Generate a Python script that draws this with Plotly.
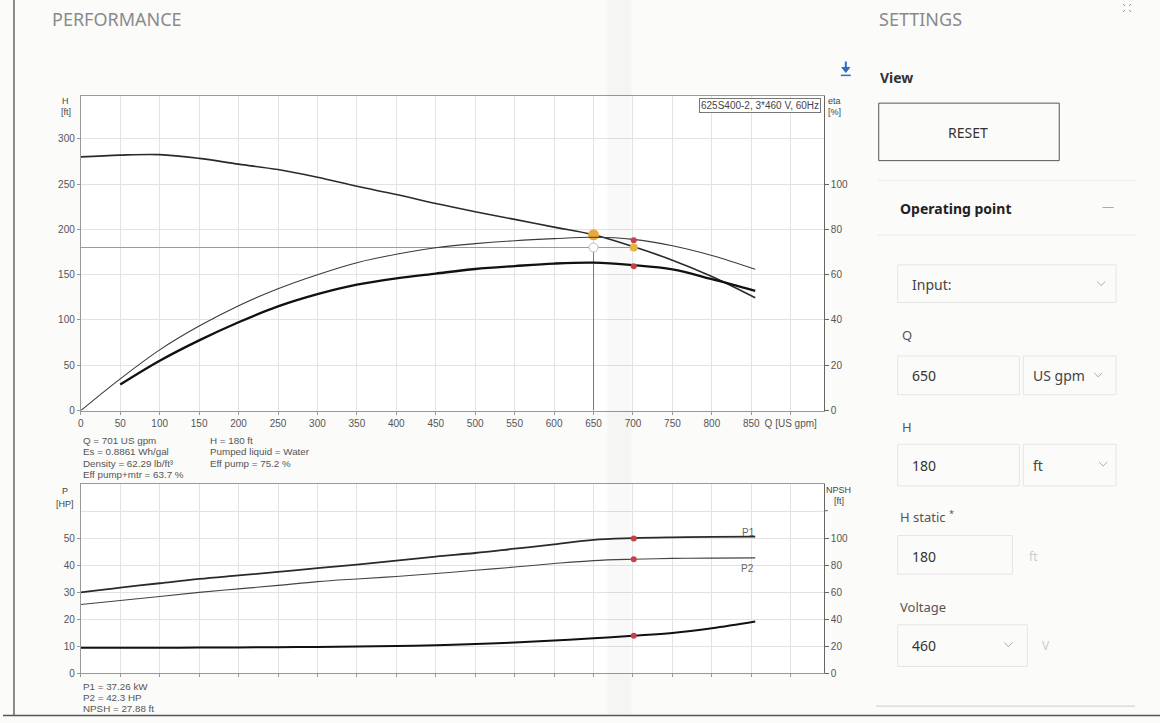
import plotly.graph_objects as go

W, H = 1160, 723

# flow points (US gpm)
q_pts = [0, 50, 100, 150, 200, 250, 300, 350, 400, 450, 500, 550, 600, 650, 700, 750, 800, 855]
head_ft = [280, 282, 282.5, 278.4, 272, 266, 257.5, 247.5, 238.5, 228.5, 219.5, 211, 202.5, 194, 181, 166, 148, 124.5]
eta_pump = [0, 14, 26.8, 37.3, 46.3, 53.8, 60, 65.3, 69, 71.9, 73.7, 75, 75.9, 76.5, 75.6, 72.8, 68.5, 62.4]
q_tot = q_pts[1:]
eta_total = [11.5, 22, 31, 39, 46, 51.4, 55.6, 58.4, 60.5, 62.5, 63.8, 64.9, 65.3, 64.2, 62.3, 58, 52.8]

p1_hp = [30, 31.8, 33.4, 35, 36.3, 37.6, 39, 40.3, 41.8, 43.3, 44.6, 46.2, 47.8, 49.5, 50.1, 50.4, 50.6, 50.7]
p2_hp = [25.5, 27, 28.5, 30, 31.3, 32.6, 34, 35, 35.9, 37, 38.2, 39.4, 40.7, 41.8, 42.3, 42.6, 42.7, 42.8]
npsh_ft = [19, 19, 19, 19.1, 19.2, 19.4, 19.6, 19.9, 20.3, 20.9, 21.7, 22.8, 24.3, 26, 27.9, 30, 33.5, 38.5]

# operating point
q_duty, h_static = 650, 180
h_duty = 194
q_op, h_op = 701, 180
eta_pump_op, eta_total_op = 75.2, 63.7
p1_op, p2_op, npsh_op = 50.0, 42.3, 27.88

x_ticks = list(range(0, 901, 50))
x_text = [str(v) for v in range(0, 851, 50)] + ["Q [US gpm]"]

CHART_FONT = "Liberation Sans, Arial, sans-serif"
UI_FONT = "Noto Sans, Open Sans, sans-serif"
INK = "#2a2a2a"
GRID = "#e3e3e3"


def px(x):
    return x / W


def py(y):
    return 1 - y / H


fig = go.Figure()

# upper chart: head and efficiency
fig.add_trace(go.Scatter(x=[0, q_op], y=[h_static, h_static], mode="lines",
                         line=dict(color="#9a9a9a", width=1), xaxis="x", yaxis="y"))
fig.add_trace(go.Scatter(x=[q_duty, q_duty], y=[0, h_static], mode="lines",
                         line=dict(color="#777", width=1), xaxis="x", yaxis="y"))
fig.add_trace(go.Scatter(x=q_pts, y=head_ft, mode="lines", line=dict(color=INK, width=1.6, shape="spline"),
                         xaxis="x", yaxis="y"))
fig.add_trace(go.Scatter(x=q_pts, y=eta_pump, mode="lines", line=dict(color="#3a3a3a", width=1.1, shape="spline"),
                         xaxis="x", yaxis="y2"))
fig.add_trace(go.Scatter(x=q_tot, y=eta_total, mode="lines", line=dict(color="#111", width=2.3, shape="spline"),
                         xaxis="x", yaxis="y2"))
fig.add_trace(go.Scatter(x=[q_duty], y=[h_static], mode="markers",
                         marker=dict(size=9, color="white", line=dict(color="#bbb", width=1)), xaxis="x", yaxis="y"))
fig.add_trace(go.Scatter(x=[q_duty], y=[h_duty], mode="markers",
                         marker=dict(size=11, color="#e8a93a"), xaxis="x", yaxis="y"))
fig.add_trace(go.Scatter(x=[q_op], y=[h_op], mode="markers",
                         marker=dict(size=8, color="#e3b540"), xaxis="x", yaxis="y"))
fig.add_trace(go.Scatter(x=[q_op, q_op], y=[eta_pump_op, eta_total_op], mode="markers",
                         marker=dict(size=6, color="#c8404a"), xaxis="x", yaxis="y2"))

# lower chart: power and NPSH
fig.add_trace(go.Scatter(x=q_pts, y=p1_hp, mode="lines", line=dict(color=INK, width=1.8, shape="spline"),
                         xaxis="x2", yaxis="y3"))
fig.add_trace(go.Scatter(x=q_pts, y=p2_hp, mode="lines", line=dict(color="#444", width=1.1, shape="spline"),
                         xaxis="x2", yaxis="y3"))
fig.add_trace(go.Scatter(x=q_pts, y=npsh_ft, mode="lines", line=dict(color="#111", width=2, shape="spline"),
                         xaxis="x2", yaxis="y4"))
fig.add_trace(go.Scatter(x=[q_op, q_op], y=[p1_op, p2_op], mode="markers",
                         marker=dict(size=6, color="#c8404a"), xaxis="x2", yaxis="y3"))
fig.add_trace(go.Scatter(x=[q_op], y=[npsh_op], mode="markers",
                         marker=dict(size=6, color="#c8404a"), xaxis="x2", yaxis="y4"))

tickfont = dict(family=CHART_FONT, size=10, color="#555")
xdom = [px(78), px(823)]
xcommon = dict(range=[0, 942], tickvals=x_ticks, showgrid=True, gridcolor=GRID, zeroline=False,
               showline=True, linecolor="#999", mirror=True, ticks="outside", ticklen=3,
               tickcolor="#999", tickfont=tickfont, domain=xdom)
ycommon = dict(showgrid=True, gridcolor=GRID, zeroline=False, showline=True, linecolor="#999",
               ticks="outside", ticklen=3, tickcolor="#999", tickfont=tickfont)
yright = dict(showgrid=False, zeroline=False, showline=True, linecolor="#666", side="right",
              ticks="outside", ticklen=4, tickcolor="#666", tickfont=tickfont)

fig.update_layout(
    width=W, height=H, autosize=False, showlegend=False,
    margin=dict(l=0, r=0, t=0, b=0),
    paper_bgcolor="#fbfbfa", plot_bgcolor="white",
    xaxis=dict(xcommon, anchor="y", ticktext=x_text),
    yaxis=dict(ycommon, domain=[py(414), py(97)], range=[0, 347], tickvals=list(range(0, 301, 50))),
    yaxis2=dict(yright, overlaying="y", anchor="x", range=[0, 138.8], tickvals=list(range(0, 101, 20))),
    xaxis2=dict(xcommon, anchor="y3", showticklabels=False),
    yaxis3=dict(ycommon, domain=[py(679), py(488)], range=[0, 70.2], tickvals=list(range(0, 51, 10))),
    yaxis4=dict(yright, overlaying="y3", anchor="x2", range=[0, 140.4], tickvals=list(range(0, 101, 20))),
)

ann = []


def text(x, y, s, size=9, color="#444", family=CHART_FONT, xanchor="left", **kw):
    ann.append(dict(x=px(x), y=py(y), xref="paper", yref="paper", text=s, showarrow=False,
                    xanchor=xanchor, yanchor="middle", font=dict(family=family, size=size, color=color), **kw))


# chart labels
text(63, 102, "H", xanchor="center", size=9)
text(63, 113, "[ft]", xanchor="center", size=9)
text(834, 102, "eta", xanchor="center", size=9)
text(834, 113, "[%]", xanchor="center", size=9)
text(62, 495, "P", xanchor="center", size=9)
text(62, 508, "[HP]", xanchor="center", size=9)
text(838, 494, "NPSH", xanchor="center", size=9)
text(838, 505, "[ft]", xanchor="center", size=9)
text(747, 537, "P1", xanchor="center", size=10, color="#666")
text(746, 573, "P2", xanchor="center", size=10, color="#666")

ann.append(dict(x=px(820), y=py(99), xref="paper", yref="paper", text="625S400-2, 3*460 V, 60Hz",
                showarrow=False, xanchor="right", yanchor="top", bgcolor="white",
                bordercolor="#777", borderwidth=1, borderpad=1,
                font=dict(family=CHART_FONT, size=10, color="#444")))

for i, s in enumerate(["Q = 701 US gpm", "Es = 0.8861 Wh/gal", "Density = 62.29 lb/ft³", "Eff pump+mtr = 63.7 %"]):
    text(78, 444 + i * 11.6, s, size=9.8, color="#555")
for i, s in enumerate(["H = 180 ft", "Pumped liquid = Water", "Eff pump = 75.2 %"]):
    text(206, 444 + i * 11.6, s, size=9.8, color="#555")
for i, s in enumerate(["P1 = 37.26 kW", "P2 = 42.3 HP", "NPSH = 27.88 ft"]):
    text(78, 692 + i * 11.2, s, size=9.8, color="#555")

# page texts
text(47, 19, "PERFORMANCE", size=18, color="#8a8a8a", family=UI_FONT)
text(876, 19, "SETTINGS", size=18, color="#8a8a8a", family=UI_FONT)
text(877, 78, "<b>View</b>", size=14, color="#333", family=UI_FONT)
text(968, 134, "RESET", size=14, color="#333", family=UI_FONT, xanchor="center")
text(897, 210, "<b>Operating point</b>", size=14, color="#222", family=UI_FONT)
text(1108, 208, "—", size=12, color="#aaa", family=UI_FONT, xanchor="center")
text(909, 287, "Input:", size=14, color="#444", family=UI_FONT)
text(899, 338, "Q", size=13, color="#555", family=UI_FONT)
text(909, 379, "650", size=14, color="#333", family=UI_FONT)
text(1031, 379, "US gpm", size=14, color="#444", family=UI_FONT)
text(899, 431, "H", size=13, color="#555", family=UI_FONT)
text(909, 469, "180", size=14, color="#333", family=UI_FONT)
text(1031, 469, "ft", size=14, color="#444", family=UI_FONT)
text(897, 521, "H static <sup>*</sup>", size=13, color="#555", family=UI_FONT)
text(909, 561, "180", size=14, color="#333", family=UI_FONT)
text(1027, 561, "ft", size=12, color="#ccc", family=UI_FONT)
text(897, 612, "Voltage", size=13, color="#555", family=UI_FONT)
text(909, 651, "460", size=14, color="#333", family=UI_FONT)
text(1040, 651, "V", size=12, color="#ccc", family=UI_FONT)

shapes = []

# upper grid row of the power chart (unlabelled)
shapes.append(dict(type="line", xref="x2", yref="y3", x0=0, x1=942, y0=60, y1=60,
                   line=dict(color=GRID, width=1), layer="below"))


def rect(x0, y0, x1, y1, color="#e6e6e6", width=1):
    shapes.append(dict(type="rect", xref="paper", yref="paper", x0=px(x0), y0=py(y1), x1=px(x1), y1=py(y0),
                       line=dict(color=color, width=width), fillcolor="rgba(0,0,0,0)", layer="below"))


def hline(x0, x1, y, color="#ececec", width=1):
    shapes.append(dict(type="line", xref="paper", yref="paper", x0=px(x0), x1=px(x1), y0=py(y), y1=py(y),
                       line=dict(color=color, width=width)))


def path(pts, color, width=1, fill=None):
    d = "M " + " L ".join(f"{px(x)} {py(y)}" for x, y in pts)
    if fill:
        d += " Z"
    shapes.append(dict(type="path", xref="paper", yref="paper", path=d, line=dict(color=color, width=width),
                       fillcolor=fill or "rgba(0,0,0,0)"))


def chevron(x, y, color="#aaa"):
    path([(x - 4, y - 2), (x, y + 2), (x + 4, y - 2)], color)


rect(878, 104, 1059, 162, color="#555", width=1)
hline(877, 1135, 182)
hline(877, 1135, 237)
rect(897, 267, 1116, 305)
chevron(1101, 286)
rect(897, 359, 1019, 398)
rect(1023, 359, 1116, 398)
chevron(1098, 378)
rect(897, 448, 1019, 490)
rect(1023, 448, 1116, 490)
chevron(1103, 468)
rect(897, 540, 1012, 579)
rect(897, 630, 1027, 672)
chevron(1008, 650)

# tick on the NPSH axis above the labels
path([(823, 515), (827, 515)], "#666")

# download icon
BLUE = "#2d6fc0"
path([(845, 62), (845, 70)], BLUE, width=2)
path([(841, 68), (849, 68), (845, 73)], BLUE, width=1, fill=BLUE)
path([(840, 76), (850, 76)], BLUE, width=1.5)

# expand icon
for sx, sy in [(-1, -1), (1, -1), (-1, 1), (1, 1)]:
    cx, cy = 1127 + sx * 4, 8 + sy * 4
    path([(cx - sx * 2, cy - sy * 2), (cx, cy)], "#888", width=1)

hline(875, 1135, 712, color="#ccc")
hline(0, W, 721.5, color="#555", width=1.5)
shapes.append(dict(type="line", xref="paper", yref="paper", x0=px(11), x1=px(11), y0=py(0), y1=py(721),
                   line=dict(color="#666", width=1.5)))
# scan fold band
shapes.append(dict(type="rect", xref="paper", yref="paper", x0=px(606), x1=px(630), y0=py(720), y1=py(0),
                   line=dict(width=0), fillcolor="rgba(0,0,0,0.025)", layer="above"))

fig.update_layout(annotations=ann, shapes=shapes)
fig.write_html("out.html", config={"displayModeBar": False},
               post_script="document.body.style.margin='0';document.body.style.overflow='hidden';")
